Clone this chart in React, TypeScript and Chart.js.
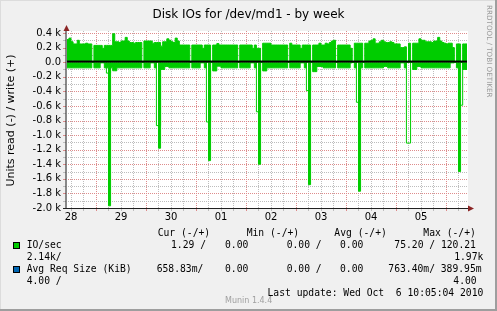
import React, { useEffect, useRef } from 'react';
import { Chart, registerables } from 'chart.js';

Chart.register(...registerables);

const W = 497;
const H = 311;
const GREEN = '#00CC00';
const BLUE = '#0066B3';
const SANS = 'DejaVu Sans';
const MONO = 'DejaVu Sans Mono';
const MINOR = '#BDBDBD';
const MAJOR = '#DE8C8C';

// time axis: hours after Sep 28 00:00; graph spans 8 days ending Oct 6 10:05
const rangeStartHour = 10 + 5 / 60;
const rangeHours = 192;
const firstBinHour = 10; // hourly bins

const dayLabels = ['28', '29', '30', '01', '02', '03', '04', '05'];
const dayNoonHours = [12, 36, 60, 84, 108, 132, 156, 180];
const gridHours = [12, 18, 24, 30, 36, 42, 48, 54, 60, 66, 72, 78, 84, 90, 96, 102, 108, 114, 120, 126, 132, 138, 144, 150, 156, 162, 168, 174, 180, 186, 192, 198];

const yTickValues = [400, 200, 0, -200, -400, -600, -800, -1000, -1200, -1400, -1600, -1800, -2000];
const yTickLabels = ['0.4 k', '0.2 k', '0.0', '-0.2 k', '-0.4 k', '-0.6 k', '-0.8 k', '-1.0 k', '-1.2 k', '-1.4 k', '-1.6 k', '-1.8 k', '-2.0 k'];
const yMinorValues = [300, 100, -100, -300, -500, -700, -900, -1100, -1300, -1500, -1700, -1900];

// writes (+), IO/s, one value per hour
const writeValues = [
  310, 330, 280, 250, 250, 300, 250, 250, 250, 260,
  250, 250, 0, 230, 230, 230, 230, 190, 230, 230,
  230, 230, 390, 280, 280, 270, 290, 290, 340, 290,
  270, 270, 260, 270, 270, 270, 0, 290, 290, 290,
  290, 260, 270, 270, 270, 220, 280, 280, 320, 300,
  280, 270, 330, 290, 235, 235, 235, 235, 235, 0,
  235, 235, 235, 235, 235, 190, 235, 235, 235, 0,
  235, 235, 255, 235, 235, 235, 235, 235, 235, 235,
  235, 235, 0, 235, 235, 235, 235, 235, 235, 190,
  235, 190, 190, 0, 260, 260, 260, 260, 235, 235,
  235, 235, 235, 235, 235, 235, 0, 260, 235, 235,
  235, 235, 190, 235, 235, 235, 235, 0, 235, 235,
  235, 260, 235, 235, 260, 250, 270, 290, 300, 0,
  235, 235, 235, 235, 235, 235, 190, 0, 260, 260,
  260, 260, 0, 260, 260, 290, 300, 320, 260, 260,
  280, 300, 280, 270, 270, 280, 270, 250, 250, 250,
  200, 200, 210, 0, 260, 0, 260, 260, 260, 320,
  300, 300, 280, 280, 280, 270, 290, 290, 340, 290,
  270, 260, 250, 260, 260, 200, 0, 250, 250, 0,
  250, 250,
];

// reads (-), IO/s, one value per hour
const readValues = [
  -78, -78, -78, -78, -78, -78, -78, -78, -78, -78,
  -78, -78, 0, -78, -78, -78, -10, -10, -78, -78,
  -1970, -78, -118, -118, -78, -78, -78, -78, -78, -78,
  -78, -78, -78, -78, -78, -78, 0, -78, -78, -78,
  -10, -10, -78, 0, -1180, -100, -100, -60, -60, -78,
  -78, -78, -78, -78, -78, -78, -78, -78, -78, 0,
  -78, -78, -78, -78, -10, -10, -78, 0, -1350, 0,
  -120, -120, -55, -55, -78, -78, -78, -78, -78, -78,
  -78, -78, 0, -78, -78, -78, -78, -78, -10, -10,
  -78, 0, -1400, 0, -120, -120, -78, -78, -78, -78,
  -78, -78, -78, -78, -78, -78, 0, -78, -78, -78,
  -78, -78, -10, -10, -78, 0, -1680, 0, -130, -130,
  -60, -60, -60, -78, -78, -78, -78, -78, -78, 0,
  -78, -78, -78, -78, -78, -78, -10, 0, -78, 0,
  -1770, -78, 0, -78, -78, -78, -78, -78, -78, -78,
  -78, -78, -60, -60, -78, -78, -78, -78, -78, -78,
  -10, -10, -78, 0, 0, 0, -100, -100, -60, -60,
  -78, -78, -78, -78, -78, -78, -78, -78, -78, -78,
  -78, -78, -78, -78, -10, -10, 0, -78, -1500, 0,
  -100, -100,
];

// read peaks drawn as hollow steps
const peakStartBins = [19, 43, 67, 91, 115, 139, 163, 188];
const peakEndBins = [20, 44, 68, 92, 116, 140, 164, 189];
const peakDepths = [-150, -870, -820, -680, -390, -550, -1110, -590];

const legendHeaders = ['Cur (-/+)', 'Min (-/+)', 'Avg (-/+)', 'Max (-/+)'];
const ioStats = ['1.29 /', '0.00', '0.00 /', '0.00', '75.20 / 120.21'];
const ioWrap = ['2.14k/', '1.97k'];
const reqStats = ['658.83m/', '0.00', '0.00 /', '0.00', '763.40m/ 389.95m'];
const reqWrap = ['4.00 /', '4.00'];
const seriesNames = ['IO/sec', 'Avg Req Size (KiB)'];
const lastUpdate = 'Last update: Wed Oct  6 10:05:04 2010';

const binPoints = (vals: number[]) => {
  const pts = vals.map((v, i) => ({ x: firstBinHour + i, y: v }));
  pts.push({ x: firstBinHour + vals.length + 1, y: vals[vals.length - 1] });
  return pts;
};

const peakPoints = () => {
  const pts: { x: number; y: number | null }[] = [];
  peakStartBins.forEach((s, k) => {
    const x0 = firstBinHour + s;
    const x1 = firstBinHour + peakEndBins[k] + 1;
    pts.push({ x: x0, y: 0 }, { x: x0, y: peakDepths[k] }, { x: x1, y: 0 }, { x: x1, y: null });
  });
  return pts;
};

function dottedV(ctx: CanvasRenderingContext2D, x: number, y0: number, y1: number, col: string) {
  ctx.fillStyle = col;
  for (let y = y0; y <= y1; y += 2) ctx.fillRect(x, y, 1, 1);
}
function dottedH(ctx: CanvasRenderingContext2D, y: number, x0: number, x1: number, col: string) {
  ctx.fillStyle = col;
  for (let x = x0; x <= x1; x += 2) ctx.fillRect(x, y, 1, 1);
}

const muninPlugin = {
  id: 'muninDeco',
  beforeDraw(chart: any) {
    const { ctx, chartArea: a, scales } = chart;
    ctx.save();
    ctx.fillStyle = '#F0F0F0';
    ctx.fillRect(0, 0, W, H);
    ctx.fillStyle = '#DCDCDC';
    ctx.fillRect(0, 0, W, 1);
    ctx.fillRect(0, 0, 1, H);
    ctx.fillStyle = '#9E9E9E';
    ctx.fillRect(0, H - 2, W, 2);
    ctx.fillRect(W - 2, 0, 2, H);
    ctx.fillStyle = '#FFFFFF';
    ctx.fillRect(a.left, a.top - 2, a.right - a.left + 1, a.bottom - a.top + 2);

    const xs = scales.x;
    const ys = scales.y;
    const top = Math.round(a.top) - 2;
    const bottom = Math.round(a.bottom);
    const left = Math.round(a.left);
    const right = Math.round(a.right);
    xs.ticks.forEach((t: any) => {
      const px = Math.round(xs.getPixelForValue(t.value));
      const col = t.value % 24 === 0 ? MAJOR : MINOR;
      dottedV(ctx, px, top, bottom - 1, col);
      ctx.fillStyle = col;
      ctx.fillRect(px, bottom, 1, 3);
    });
    ys.ticks.forEach((t: any) => {
      const py = Math.round(ys.getPixelForValue(t.value));
      const col = yTickValues.includes(t.value) ? MAJOR : MINOR;
      dottedH(ctx, py, left + 1, right, col);
      ctx.fillStyle = col;
      ctx.fillRect(left - 4, py, 3, 1);
    });
    ctx.restore();
  },
  afterDatasetsDraw(chart: any) {
    const { ctx, chartArea: a, scales } = chart;
    const y0 = scales.y.getPixelForValue(0);
    ctx.save();
    ctx.fillStyle = '#000000';
    ctx.fillRect(a.left, y0 - 1.6, a.right - a.left, 2);
    ctx.restore();
  },
  afterDraw(chart: any) {
    const { ctx, chartArea: a } = chart;
    ctx.save();
    // axes
    ctx.strokeStyle = '#202020';
    ctx.lineWidth = 1;
    ctx.beginPath();
    ctx.moveTo(66, a.bottom + 1);
    ctx.lineTo(66, a.top - 4);
    ctx.moveTo(a.left - 4, 208.5);
    ctx.lineTo(a.right + 2, 208.5);
    ctx.stroke();
    ctx.fillStyle = '#8B2525';
    ctx.beginPath();
    ctx.moveTo(66.5, 25);
    ctx.lineTo(69.5, 31);
    ctx.lineTo(63.5, 31);
    ctx.closePath();
    ctx.fill();
    ctx.beginPath();
    ctx.moveTo(474, 208.5);
    ctx.lineTo(468, 205.5);
    ctx.lineTo(468, 211.5);
    ctx.closePath();
    ctx.fill();

    // title
    ctx.fillStyle = '#000000';
    ctx.font = `12px "${SANS}"`;
    ctx.textAlign = 'center';
    ctx.textBaseline = 'alphabetic';
    ctx.fillText('Disk IOs for /dev/md1 - by week', 248.5, 17.5);

    // watermark
    ctx.save();
    ctx.translate(488.5, 5);
    ctx.rotate(Math.PI / 2);
    ctx.fillStyle = '#9A9A9A';
    ctx.font = `7.2px "${SANS}"`;
    ctx.textAlign = 'left';
    ctx.textBaseline = 'middle';
    ctx.fillText('RRDTOOL / TOBI OETIKER', 0, 0);
    ctx.restore();

    // legend
    ctx.font = `9.7px "${MONO}"`;
    ctx.textBaseline = 'middle';
    ctx.textAlign = 'left';
    ctx.fillStyle = '#000000';
    const hx = [157.7, 246.7, 334.3, 423.3];
    legendHeaders.forEach((t, i) => ctx.fillText(t, hx[i], 233.7));
    const ioX = [171, 225, 286.7, 340, 394.3];
    const reqX = [156.7, 225, 286.7, 340, 388.3];
    ctx.fillText(seriesNames[0], 26.7, 245.7);
    ioStats.forEach((t, i) => ctx.fillText(t, ioX[i], 245.7));
    ctx.fillText(ioWrap[0], 26.7, 257.7);
    ctx.fillText(seriesNames[1], 26.7, 269.7);
    reqStats.forEach((t, i) => ctx.fillText(t, reqX[i], 269.7));
    ctx.fillText(reqWrap[0], 26.7, 281.7);
    ctx.textAlign = 'right';
    ctx.fillText(ioWrap[1], 483.3, 257.7);
    ctx.fillText(reqWrap[1], 476.7, 281.7);
    ctx.fillText(lastUpdate, 483.3, 293.7);

    // swatches
    ctx.fillStyle = GREEN;
    ctx.fillRect(13, 242, 7, 7);
    ctx.fillStyle = BLUE;
    ctx.fillRect(13, 266, 7, 7);
    ctx.strokeStyle = '#000000';
    ctx.strokeRect(13.5, 242.5, 6, 6);
    ctx.strokeRect(13.5, 266.5, 6, 6);

    ctx.fillStyle = '#A0A0A0';
    ctx.font = `8px "${SANS}"`;
    ctx.textAlign = 'left';
    ctx.fillText('Munin 1.4.4', 225, 300.5);
    ctx.restore();
  },
};

export default function App() {
  const ref = useRef<HTMLCanvasElement>(null);

  useEffect(() => {
    if (!ref.current) return;
    Chart.defaults.font.family = SANS;
    const chart = new Chart(ref.current, {
      type: 'line',
      data: {
        datasets: [
          {
            label: 'read',
            data: binPoints(readValues),
            stepped: true,
            fill: 'origin',
            backgroundColor: GREEN,
            borderColor: GREEN,
            borderWidth: 1,
            pointRadius: 0,
          },
          {
            label: 'write',
            data: binPoints(writeValues),
            stepped: true,
            fill: 'origin',
            backgroundColor: GREEN,
            borderColor: GREEN,
            borderWidth: 1,
            pointRadius: 0,
          },
          {
            label: 'read peak',
            data: peakPoints(),
            stepped: true,
            fill: false,
            spanGaps: false,
            borderColor: GREEN,
            borderWidth: 1,
            pointRadius: 0,
          },
        ],
      } as any,
      options: {
        animation: false,
        responsive: false,
        events: [],
        layout: { padding: { left: 5, right: 30, top: 33, bottom: 83 } },
        plugins: {
          legend: { display: false },
          tooltip: { enabled: false },
          title: { display: false },
        },
        scales: {
          x: {
            type: 'linear',
            min: rangeStartHour,
            max: rangeStartHour + rangeHours,
            afterFit: (s: any) => {
              s.height = 20;
            },
            afterBuildTicks: (s: any) => {
              s.ticks = gridHours.map((v) => ({ value: v }));
            },
            grid: {
              color: 'rgba(0,0,0,0)',
              drawTicks: true,
              tickLength: 3,
            },
            border: { display: false },
            ticks: {
              autoSkip: false,
              maxRotation: 0,
              minRotation: 0,
              padding: 0,
              color: '#000000',
              font: { family: SANS, size: 10 },
              callback: (v: any) => {
                const i = dayNoonHours.indexOf(Number(v));
                return i >= 0 ? dayLabels[i] : '';
              },
            },
          },
          y: {
            type: 'linear',
            min: -2000,
            max: 400,
            afterFit: (s: any) => {
              s.width = 62;
            },
            afterBuildTicks: (s: any) => {
              s.ticks = [...yTickValues, ...yMinorValues].sort((p, q) => q - p).map((v) => ({ value: v }));
            },
            grid: {
              color: 'rgba(0,0,0,0)',
              drawTicks: true,
              tickLength: 3,
            },
            border: { display: false },
            ticks: {
              autoSkip: false,
              padding: 3,
              color: '#000000',
              font: { family: SANS, size: 10 },
              callback: (v: any) => {
                const i = yTickValues.indexOf(Number(v));
                return i >= 0 ? yTickLabels[i] : '';
              },
            },
            title: {
              display: true,
              text: 'Units read (-) / write (+)',
              color: '#000000',
              font: { family: SANS, size: 11 },
              padding: { top: 0, bottom: 0 },
            },
          },
        },
      } as any,
      plugins: [muninPlugin],
    });
    return () => chart.destroy();
  }, []);

  return (
    <div style={{ position: 'fixed', left: 0, top: 0, width: W, height: H }}>
      <canvas ref={ref} width={W} height={H} style={{ display: 'block', width: W, height: H }} />
    </div>
  );
}
